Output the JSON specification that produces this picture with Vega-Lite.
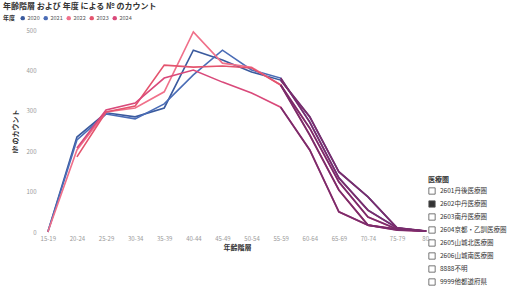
{
  "$schema": "https://vega.github.io/schema/vega-lite/v6.json",
  "width": 390,
  "height": 202,
  "autosize": {"type": "none"},
  "padding": {"left": 42, "top": 30, "right": 93, "bottom": 62},
  "background": "white",
  "config": {
    "font": "Noto Sans CJK JP",
    "view": {"stroke": null},
    "axis": {"labelFont": "Noto Sans CJK JP", "titleFont": "Noto Sans CJK JP"},
    "legend": {"labelFont": "Noto Sans CJK JP", "titleFont": "Noto Sans CJK JP"}
  },
  "title": {
    "text": "年齢階層 および 年度 による № のカウント",
    "anchor": "start",
    "frame": "group",
    "dx": -39,
    "offset": 4,
    "fontSize": 8,
    "fontWeight": "bold",
    "color": "#333333"
  },
  "datasets": {
    "counts": [
      {"age": "15-19", "ord": 0, "year": "2020", "value": 0},
      {"age": "20-24", "ord": 1, "year": "2020", "value": 235},
      {"age": "25-29", "ord": 2, "year": "2020", "value": 295},
      {"age": "30-34", "ord": 3, "year": "2020", "value": 285},
      {"age": "35-39", "ord": 4, "year": "2020", "value": 307},
      {"age": "40-44", "ord": 5, "year": "2020", "value": 450},
      {"age": "45-49", "ord": 6, "year": "2020", "value": 426},
      {"age": "50-54", "ord": 7, "year": "2020", "value": 396},
      {"age": "55-59", "ord": 8, "year": "2020", "value": 376},
      {"age": "60-64", "ord": 9, "year": "2020", "value": 285},
      {"age": "65-69", "ord": 10, "year": "2020", "value": 149},
      {"age": "70-74", "ord": 11, "year": "2020", "value": 87},
      {"age": "75-79", "ord": 12, "year": "2020", "value": 10},
      {"age": "80-", "ord": 13, "year": "2020", "value": 2},

      {"age": "15-19", "ord": 0, "year": "2021", "value": 0},
      {"age": "20-24", "ord": 1, "year": "2021", "value": 228},
      {"age": "25-29", "ord": 2, "year": "2021", "value": 292},
      {"age": "30-34", "ord": 3, "year": "2021", "value": 280},
      {"age": "35-39", "ord": 4, "year": "2021", "value": 317},
      {"age": "40-44", "ord": 5, "year": "2021", "value": 389},
      {"age": "45-49", "ord": 6, "year": "2021", "value": 450},
      {"age": "50-54", "ord": 7, "year": "2021", "value": 401},
      {"age": "55-59", "ord": 8, "year": "2021", "value": 381},
      {"age": "60-64", "ord": 9, "year": "2021", "value": 272},
      {"age": "65-69", "ord": 10, "year": "2021", "value": 134},
      {"age": "70-74", "ord": 11, "year": "2021", "value": 54},
      {"age": "75-79", "ord": 12, "year": "2021", "value": 10},
      {"age": "80-", "ord": 13, "year": "2021", "value": 2},

      {"age": "15-19", "ord": 0, "year": "2022", "value": 0},
      {"age": "20-24", "ord": 1, "year": "2022", "value": 203},
      {"age": "25-29", "ord": 2, "year": "2022", "value": 297},
      {"age": "30-34", "ord": 3, "year": "2022", "value": 307},
      {"age": "35-39", "ord": 4, "year": "2022", "value": 347},
      {"age": "40-44", "ord": 5, "year": "2022", "value": 495},
      {"age": "45-49", "ord": 6, "year": "2022", "value": 418},
      {"age": "50-54", "ord": 7, "year": "2022", "value": 408},
      {"age": "55-59", "ord": 8, "year": "2022", "value": 364},
      {"age": "60-64", "ord": 9, "year": "2022", "value": 257},
      {"age": "65-69", "ord": 10, "year": "2022", "value": 124},
      {"age": "70-74", "ord": 11, "year": "2022", "value": 37},
      {"age": "75-79", "ord": 12, "year": "2022", "value": 7},
      {"age": "80-", "ord": 13, "year": "2022", "value": 2},

      {"age": "20-24", "ord": 1, "year": "2023", "value": 186},
      {"age": "25-29", "ord": 2, "year": "2023", "value": 297},
      {"age": "30-34", "ord": 3, "year": "2023", "value": 312},
      {"age": "35-39", "ord": 4, "year": "2023", "value": 413},
      {"age": "40-44", "ord": 5, "year": "2023", "value": 408},
      {"age": "45-49", "ord": 6, "year": "2023", "value": 411},
      {"age": "50-54", "ord": 7, "year": "2023", "value": 406},
      {"age": "55-59", "ord": 8, "year": "2023", "value": 364},
      {"age": "60-64", "ord": 9, "year": "2023", "value": 240},
      {"age": "65-69", "ord": 10, "year": "2023", "value": 104},
      {"age": "70-74", "ord": 11, "year": "2023", "value": 17},
      {"age": "75-79", "ord": 12, "year": "2023", "value": 7},
      {"age": "80-", "ord": 13, "year": "2023", "value": 2},

      {"age": "20-24", "ord": 1, "year": "2024", "value": 208},
      {"age": "25-29", "ord": 2, "year": "2024", "value": 302},
      {"age": "30-34", "ord": 3, "year": "2024", "value": 319},
      {"age": "35-39", "ord": 4, "year": "2024", "value": 381},
      {"age": "40-44", "ord": 5, "year": "2024", "value": 401},
      {"age": "45-49", "ord": 6, "year": "2024", "value": 371},
      {"age": "50-54", "ord": 7, "year": "2024", "value": 344},
      {"age": "55-59", "ord": 8, "year": "2024", "value": 309},
      {"age": "60-64", "ord": 9, "year": "2024", "value": 203},
      {"age": "65-69", "ord": 10, "year": "2024", "value": 50},
      {"age": "70-74", "ord": 11, "year": "2024", "value": 17},
      {"age": "75-79", "ord": 12, "year": "2024", "value": 5},
      {"age": "80-", "ord": 13, "year": "2024", "value": 2}
    ],
    "areas": [
      {"area": "2601丹後医療圏"},
      {"area": "2602中丹医療圏"},
      {"area": "2603南丹医療圏"},
      {"area": "2604京都・乙訓医療圏"},
      {"area": "2605山城北医療圏"},
      {"area": "2606山城南医療圏"},
      {"area": "8888不明"},
      {"area": "9999他都道府県"}
    ]
  },
  "layer": [
    {
      "data": {"name": "counts"},
      "mark": {"type": "line", "strokeWidth": 1.6},
      "encoding": {
        "x": {
          "field": "age", "type": "ordinal",
          "sort": ["15-19","20-24","25-29","30-34","35-39","40-44","45-49","50-54","55-59","60-64","65-69","70-74","75-79","80-"],
          "scale": {"type": "point", "padding": 0.2},
          "axis": {
            "title": "年齢階層", "titleFontSize": 7, "titleColor": "#333333", "titleFontWeight": "bold", "titlePadding": 2,
            "labelAngle": 0, "labelFontSize": 6, "labelColor": "#999999", "labelPadding": 3,
            "domain": false, "ticks": false, "grid": false
          }
        },
        "y": {
          "field": "value", "type": "quantitative",
          "scale": {"domain": [0, 500]},
          "axis": {
            "title": "№ のカウント", "titleFontSize": 7, "titleColor": "#333333", "titleFontWeight": "bold", "titlePadding": 8,
            "values": [0, 100, 200, 300, 400, 500],
            "labelFontSize": 6, "labelColor": "#999999", "labelPadding": 6,
            "domain": false, "ticks": false, "grid": false
          }
        },
        "color": {
          "field": "year", "type": "nominal",
          "scale": {"domain": ["2020","2021","2022","2023","2024"], "range": ["#3A5A9E","#4A6CB6","#F0708A","#E4546E","#D9497A"]},
          "legend": {
            "title": "年度", "orient": "none", "legendX": -39, "legendY": -15,
            "direction": "horizontal", "titleOrient": "left",
            "titleFontSize": 6, "titleColor": "#333333", "titlePadding": 4,
            "labelFontSize": 5.5, "labelColor": "#555555", "labelOffset": 2,
            "symbolType": "circle", "symbolSize": 20, "symbolStrokeWidth": 0, "columnPadding": 3,
            "encode": {"symbols": {"update": {"fill": {"scale": "color", "field": "value"}, "strokeWidth": {"value": 0}}}}
          }
        }
      }
    },
    {
      "data": {"name": "counts"},
      "transform": [{"filter": "datum.ord >= 8"}],
      "mark": {"type": "line", "strokeWidth": 1.8, "color": "#7A2C6C"},
      "encoding": {
        "x": {"field": "age", "type": "ordinal", "sort": ["15-19","20-24","25-29","30-34","35-39","40-44","45-49","50-54","55-59","60-64","65-69","70-74","75-79","80-"]},
        "y": {"field": "value", "type": "quantitative"},
        "detail": {"field": "year", "type": "nominal"}
      }
    },
    {
      "data": {"name": "areas"},
      "mark": {"type": "point", "opacity": 0, "shape": "square"},
      "encoding": {
        "fill": {
          "field": "area", "type": "nominal",
          "scale": {"range": ["#ffffff","#333333","#ffffff","#ffffff","#ffffff","#ffffff","#ffffff","#ffffff"]},
          "sort": null,
          "legend": {
            "title": "医療圏", "orient": "none", "legendX": 386, "legendY": 146,
            "titleFontSize": 7, "titleColor": "#333333", "titlePadding": 4,
            "labelFontSize": 6.5, "labelColor": "#333333", "labelOffset": 4,
            "symbolType": "square", "symbolSize": 40, "symbolOpacity": 1,
            "symbolStrokeColor": "#555555", "symbolStrokeWidth": 0.8,
            "rowPadding": 3
          }
        }
      }
    }
  ]
}
